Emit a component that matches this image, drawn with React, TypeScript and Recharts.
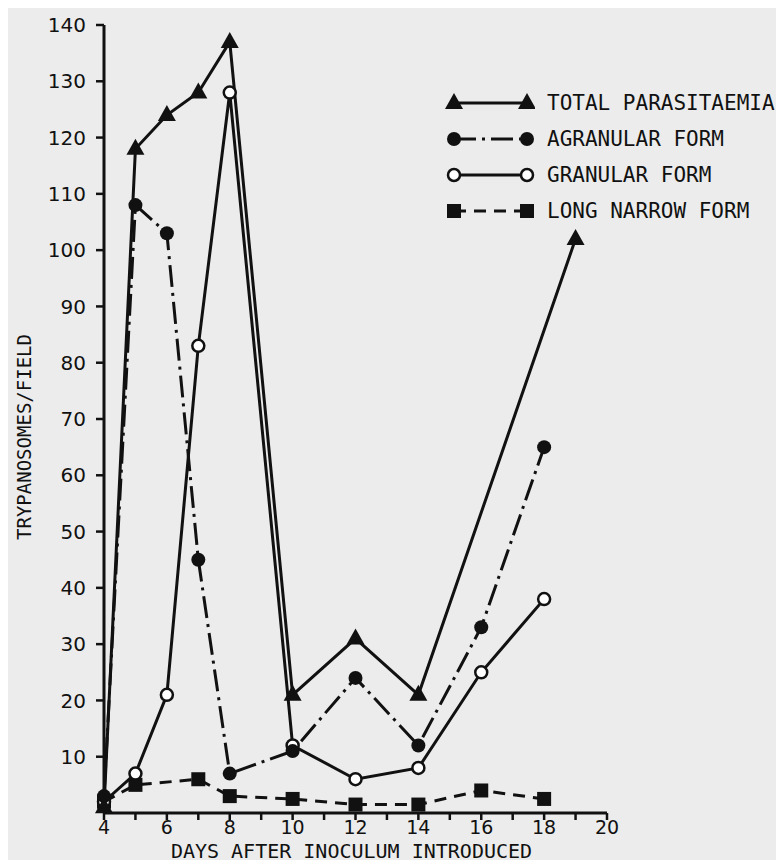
import { LineChart, Line, XAxis, YAxis, Legend, Label } from "recharts"

// days after inoculum, one list per series (series were sampled on different days)
const totalDays = [4, 5, 6, 7, 8, 10, 12, 14, 19]
const totalValues = [1, 118, 124, 128, 137, 21, 31, 21, 102]

const agranularDays = [4, 5, 6, 7, 8, 10, 12, 14, 16, 18]
const agranularValues = [3, 108, 103, 45, 7, 11, 24, 12, 33, 65]

const granularDays = [4, 5, 6, 7, 8, 10, 12, 14, 16, 18]
const granularValues = [2, 7, 21, 83, 128, 12, 6, 8, 25, 38]

const narrowDays = [4, 5, 7, 8, 10, 12, 14, 16, 18]
const narrowValues = [2, 5, 6, 3, 2.5, 1.5, 1.5, 4, 2.5]

const xTicks = [4, 5, 6, 7, 8, 9, 10, 11, 12, 13, 14, 15, 16, 17, 18, 19, 20]
const yTicks = [10, 20, 30, 40, 50, 60, 70, 80, 90, 100, 110, 120, 130, 140]

const seriesNames = [
  "TOTAL PARASITAEMIA",
  "AGRANULAR FORM",
  "GRANULAR FORM",
  "LONG NARROW FORM"
]

const ink = "#111"
const paper = "#ececec"
const mono = "'DejaVu Sans Mono', monospace"

const toRows = (days: number[], values: number[]) =>
  days.map((day, i) => ({ day, value: values[i] }))

const totalData = toRows(totalDays, totalValues)
const agranularData = toRows(agranularDays, agranularValues)
const granularData = toRows(granularDays, granularValues)
const narrowData = toRows(narrowDays, narrowValues)

const dashes = ["0", "22 6 3 6", "0", "12 8"]

function Marker({ kind, cx, cy }: { kind: number; cx: number; cy: number }) {
  if (kind === 0) {
    return <path d={`M${cx},${cy - 10} L${cx + 9},${cy + 6} L${cx - 9},${cy + 6} Z`} fill={ink} />
  }
  if (kind === 1) return <circle cx={cx} cy={cy} r={7} fill={ink} />
  if (kind === 2) return <circle cx={cx} cy={cy} r={6} fill="#fff" stroke={ink} strokeWidth={2.5} />
  return <rect x={cx - 7} y={cy - 7} width={14} height={14} fill={ink} />
}

const dotFor = (kind: number) => (props: any) => {
  const { cx, cy, index } = props
  if (cx == null || cy == null) return <g key={`d${kind}-${index}`} />
  return (
    <g key={`d${kind}-${index}`}>
      <Marker kind={kind} cx={cx} cy={cy} />
    </g>
  )
}

const renderLegend = () => (
  <div style={{ fontFamily: mono, fontSize: 21, color: ink }}>
    {seriesNames.map((name, i) => (
      <div key={name} style={{ display: "flex", alignItems: "center", height: 36 }}>
        <svg width={90} height={24} style={{ marginRight: 12 }}>
          <line x1={9} y1={12} x2={82} y2={12} stroke={ink} strokeWidth={3} strokeDasharray={dashes[i]} />
          <Marker kind={i} cx={9} cy={12} />
          <Marker kind={i} cx={82} cy={12} />
        </svg>
        <span>{name}</span>
      </div>
    ))}
  </div>
)

const YTitle = (props: any) => {
  const { x, y, height } = props.viewBox
  const cx = x + 12
  const cy = y + height / 2 + 18
  return (
    <text
      x={cx}
      y={cy}
      transform={`rotate(-90, ${cx}, ${cy})`}
      textAnchor="middle"
      dominantBaseline="central"
      fontFamily={mono}
      fontSize={19}
      fill={ink}
    >
      TRYPANOSOMES/FIELD
    </text>
  )
}

const XTitle = (props: any) => {
  const { x, y, width } = props.viewBox
  return (
    <text
      x={x + width / 2 - 4}
      y={y + 38}
      textAnchor="middle"
      dominantBaseline="central"
      fontFamily={mono}
      fontSize={20}
      fill={ink}
    >
      DAYS AFTER INOCULUM INTRODUCED
    </text>
  )
}

export default function App() {
  return (
    <div style={{ margin: -8, padding: "8px 8px 0 8px", width: 768, height: 860, background: paper }}>
      <LineChart
        width={768}
        height={860}
        margin={{ top: 17, right: 169, left: 4, bottom: 2 }}
      >
        <XAxis
          dataKey="day"
          type="number"
          domain={[4, 20]}
          ticks={xTicks}
          interval={0}
          allowDuplicatedCategory={false}
          tickFormatter={(v: number) => (v % 2 === 0 ? String(v) : "")}
          tickSize={7}
          tickMargin={1}
          height={53}
          axisLine={{ stroke: ink, strokeWidth: 3 }}
          tickLine={{ stroke: ink, strokeWidth: 2.5 }}
          tick={{ fill: ink, fontSize: 19, fontFamily: "'DejaVu Sans', sans-serif" }}
        >
          <Label content={<XTitle />} />
        </XAxis>
        <YAxis
          type="number"
          domain={[0, 140]}
          ticks={yTicks}
          interval={0}
          width={92}
          tickSize={8}
          tickMargin={10}
          axisLine={{ stroke: ink, strokeWidth: 3 }}
          tickLine={{ stroke: ink, strokeWidth: 2.5 }}
          tick={{ fill: ink, fontSize: 20, fontFamily: "'DejaVu Sans', sans-serif" }}
        >
          <Label content={<YTitle />} />
        </YAxis>
        <Legend
          content={renderLegend}
          layout="horizontal"
          verticalAlign="middle"
          align="center"
          wrapperStyle={{ position: "absolute", left: 437, top: 77, width: 340 }}
        />
        <Line
          data={narrowData}
          dataKey="value"
          name={seriesNames[3]}
          stroke={ink}
          strokeWidth={3}
          strokeDasharray={dashes[3]}
          dot={dotFor(3)}
          isAnimationActive={false}
        />
        <Line
          data={granularData}
          dataKey="value"
          name={seriesNames[2]}
          stroke={ink}
          strokeWidth={3}
          dot={dotFor(2)}
          isAnimationActive={false}
        />
        <Line
          data={agranularData}
          dataKey="value"
          name={seriesNames[1]}
          stroke={ink}
          strokeWidth={3}
          strokeDasharray={dashes[1]}
          dot={dotFor(1)}
          isAnimationActive={false}
        />
        <Line
          data={totalData}
          dataKey="value"
          name={seriesNames[0]}
          stroke={ink}
          strokeWidth={3}
          dot={dotFor(0)}
          isAnimationActive={false}
        />
      </LineChart>
    </div>
  )
}
